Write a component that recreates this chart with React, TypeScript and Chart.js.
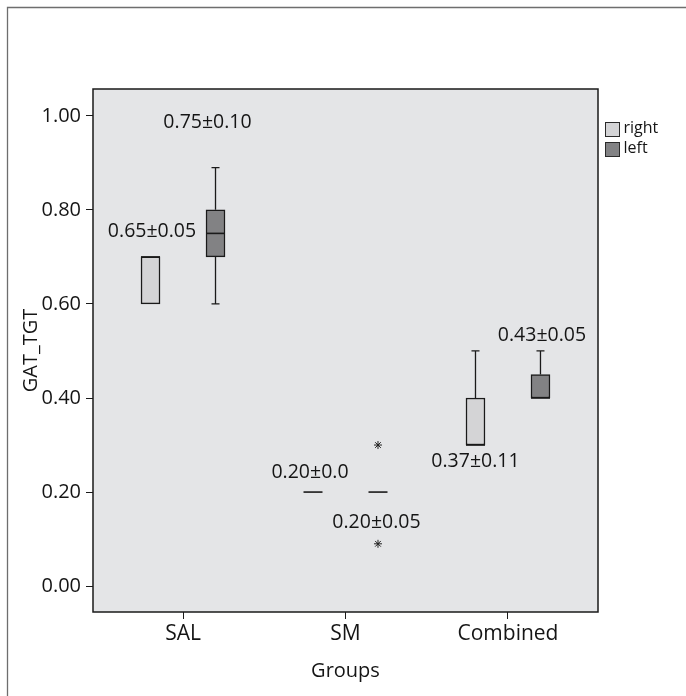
import React, { useEffect, useRef } from 'react';
import { Chart, registerables } from 'chart.js';

Chart.register(...registerables);

// ---- data ----
const categories = ['SAL', 'SM', 'Combined'];
const seriesNames = ['right', 'left'];

const rightMin = [0.6, 0.2, 0.3];
const rightQ1 = [0.6, 0.2, 0.3];
const rightMedian = [0.7, 0.2, 0.3];
const rightQ3 = [0.7, 0.2, 0.4];
const rightMax = [0.7, 0.2, 0.5];
const rightOutliers: number[][] = [[], [], []];

const leftMin = [0.6, 0.2, 0.4];
const leftQ1 = [0.7, 0.2, 0.4];
const leftMedian = [0.75, 0.2, 0.4];
const leftQ3 = [0.8, 0.2, 0.45];
const leftMax = [0.89, 0.2, 0.5];
const leftOutliers: number[][] = [[], [0.3, 0.09], []];

const rightLabels = ['0.65±0.05', '0.20±0.0', '0.37±0.11'];
const leftLabels = ['0.75±0.10', '0.20±0.05', '0.43±0.05'];

const yTicks = [0, 0.2, 0.4, 0.6, 0.8, 1.0];

// ---- presentation ----
const FONT = "'Open Sans', 'DejaVu Sans', sans-serif";
const GROUP_OFFSET = 0.2;
const BOX_WIDTH = 19;
const colors = ['#d4d4d6', '#828284'];
// annotation placement: y in data units, dx in pixels
const rightLabelPos = [
  { y: 0.755, dx: 1.5 },
  { y: 0.2426, dx: -3 },
  { y: 0.266, dx: 0 },
];
const leftLabelPos = [
  { y: 0.985, dx: -8 },
  { y: 0.136, dx: -1.5 },
  { y: 0.532, dx: 1.5 },
];

const stats = [
  { min: rightMin, q1: rightQ1, med: rightMedian, q3: rightQ3, max: rightMax, labels: rightLabels, pos: rightLabelPos },
  { min: leftMin, q1: leftQ1, med: leftMedian, q3: leftQ3, max: leftMax, labels: leftLabels, pos: leftLabelPos },
];

const boxPlugin = {
  id: 'boxDecor',
  beforeDraw(chart: any) {
    const { ctx, chartArea: a } = chart;
    ctx.save();
    ctx.fillStyle = '#ffffff';
    ctx.fillRect(0, 0, chart.width, chart.height);
    // outer frame
    ctx.strokeStyle = '#6e6e6e';
    ctx.lineWidth = 1.3;
    ctx.beginPath();
    ctx.moveTo(7.5, chart.height + 2);
    ctx.lineTo(7.5, 7.5);
    ctx.lineTo(chart.width + 2, 7.5);
    ctx.stroke();
    // plot background
    ctx.fillStyle = '#e4e5e7';
    ctx.fillRect(a.left, a.top, a.right - a.left, a.bottom - a.top);
    ctx.restore();
  },
  afterDatasetsDraw(chart: any) {
    const { ctx, chartArea: a } = chart;
    const ys = chart.scales.y;
    ctx.save();
    stats.forEach((s, di) => {
      const meta = chart.getDatasetMeta(di);
      meta.data.forEach((el: any, i: number) => {
        const cx = el.x;
        const hw = el.width / 2;
        ctx.strokeStyle = '#1a1a1a';
        ctx.lineWidth = 1.3;
        const yq1 = ys.getPixelForValue(s.q1[i]);
        const yq3 = ys.getPixelForValue(s.q3[i]);
        const ymin = ys.getPixelForValue(s.min[i]);
        const ymax = ys.getPixelForValue(s.max[i]);
        const cap = 4;
        if (s.max[i] > s.q3[i]) {
          ctx.beginPath();
          ctx.moveTo(cx, yq3);
          ctx.lineTo(cx, ymax);
          ctx.moveTo(cx - cap, ymax);
          ctx.lineTo(cx + cap, ymax);
          ctx.stroke();
        }
        if (s.min[i] < s.q1[i]) {
          ctx.beginPath();
          ctx.moveTo(cx, yq1);
          ctx.lineTo(cx, ymin);
          ctx.moveTo(cx - cap, ymin);
          ctx.lineTo(cx + cap, ymin);
          ctx.stroke();
        }
        // median
        const ym = ys.getPixelForValue(s.med[i]);
        ctx.lineWidth = 1.6;
        ctx.beginPath();
        ctx.moveTo(cx - hw, ym);
        ctx.lineTo(cx + hw, ym);
        ctx.stroke();
        // annotation
        ctx.fillStyle = '#151515';
        ctx.font = `19.5px ${FONT}`;
        ctx.textAlign = 'center';
        ctx.textBaseline = 'middle';
        ctx.fillText(s.labels[i], cx + s.pos[i].dx, ys.getPixelForValue(s.pos[i].y));
      });
    });
    // plot border
    ctx.strokeStyle = '#1a1a1a';
    ctx.lineWidth = 1.5;
    ctx.strokeRect(a.left, a.top, a.right - a.left, a.bottom - a.top);
    ctx.restore();
  },
  afterDraw(chart: any) {
    const { ctx, chartArea: a } = chart;
    ctx.save();
    const x0 = a.right + 7.5;
    let y0 = 122.5;
    for (let d = 0; d < 2; d++) {
      const ds = chart.data.datasets[d];
      ctx.fillStyle = ds.backgroundColor;
      ctx.fillRect(x0, y0, 14, 14);
      ctx.strokeStyle = '#2a2a2a';
      ctx.lineWidth = 1;
      ctx.strokeRect(x0, y0, 14, 14);
      ctx.fillStyle = '#151515';
      ctx.font = `16px ${FONT}`;
      ctx.textAlign = 'left';
      ctx.textBaseline = 'middle';
      ctx.fillText(ds.label, x0 + 18, y0 + 6);
      y0 += 20;
    }
    ctx.restore();
  },
};

export default function App() {
  const ref = useRef<HTMLCanvasElement | null>(null);

  useEffect(() => {
    if (!ref.current) return;
    const boxData = (q1: number[], q3: number[], off: number) =>
      categories.map((_, i) => ({ x: i + off, y: [q1[i], q3[i]] }));
    const outlierData = (o: number[][], off: number) => {
      const pts: { x: number; y: number }[] = [];
      o.forEach((arr, i) => arr.forEach((v) => pts.push({ x: i + off, y: v })));
      return pts;
    };

    const chart = new Chart(ref.current, {
      type: 'bar',
      data: {
        datasets: [
          {
            label: seriesNames[0],
            data: boxData(rightQ1, rightQ3, -GROUP_OFFSET) as any,
            backgroundColor: colors[0],
            borderColor: '#1a1a1a',
            borderWidth: 1.5,
            borderSkipped: false,
            grouped: false,
            barThickness: BOX_WIDTH,
          } as any,
          {
            label: seriesNames[1],
            data: boxData(leftQ1, leftQ3, GROUP_OFFSET) as any,
            backgroundColor: colors[1],
            borderColor: '#1a1a1a',
            borderWidth: 1.5,
            borderSkipped: false,
            grouped: false,
            barThickness: BOX_WIDTH,
          } as any,
          {
            type: 'scatter',
            label: 'outliers right',
            data: outlierData(rightOutliers, -GROUP_OFFSET),
            pointStyle: 'star',
            pointRadius: 4,
            borderColor: '#222',
            borderWidth: 1,
          } as any,
          {
            type: 'scatter',
            label: 'outliers left',
            data: outlierData(leftOutliers, GROUP_OFFSET),
            pointStyle: 'star',
            pointRadius: 4,
            borderColor: '#222',
            borderWidth: 1,
          } as any,
        ],
      },
      options: {
        animation: false,
        responsive: false,
        devicePixelRatio: 1,
        layout: { padding: { top: 89, right: 88, left: 0, bottom: 0 } },
        plugins: { legend: { display: false }, tooltip: { enabled: false } },
        scales: {
          x: {
            type: 'linear',
            offset: false,
            min: -0.554,
            max: 2.554,
            afterBuildTicks: (s: any) => {
              s.ticks = categories.map((_, i) => ({ value: i }));
            },
            afterFit: (s: any) => {
              s.height = 84;
            },
            ticks: {
              callback: (v: any) => categories[v as number] ?? '',
              font: { family: FONT, size: 21 },
              color: '#151515',
              padding: 2,
              maxRotation: 0,
              autoSkip: false,
            },
            grid: { offset: false, drawOnChartArea: false, drawTicks: true, tickLength: 7, color: '#1a1a1a' },
            border: { display: false },
            title: {
              display: true,
              text: 'Groups',
              font: { family: FONT, size: 20 },
              color: '#151515',
              padding: { top: 0, bottom: 13 },
            },
          },
          y: {
            type: 'linear',
            min: -0.055,
            max: 1.057,
            afterBuildTicks: (s: any) => {
              s.ticks = yTicks.map((v) => ({ value: v }));
            },
            afterFit: (s: any) => {
              s.width = 93;
            },
            ticks: {
              callback: (v: any) => Number(v).toFixed(2),
              font: { family: FONT, size: 20 },
              color: '#151515',
              padding: 5,
            },
            grid: { drawOnChartArea: false, drawTicks: true, tickLength: 7, color: '#1a1a1a' },
            border: { display: false },
            title: {
              display: true,
              text: 'GAT_TGT',
              font: { family: FONT, size: 20 },
              color: '#151515',
              padding: { top: 19, bottom: 0 },
            },
          },
        },
      },
      plugins: [boxPlugin],
    });
    return () => chart.destroy();
  }, []);

  return (
    <div style={{ position: 'absolute', left: 0, top: 0, width: 686, height: 696 }}>
      <canvas ref={ref} width={686} height={696} style={{ display: 'block' }} />
    </div>
  );
}
